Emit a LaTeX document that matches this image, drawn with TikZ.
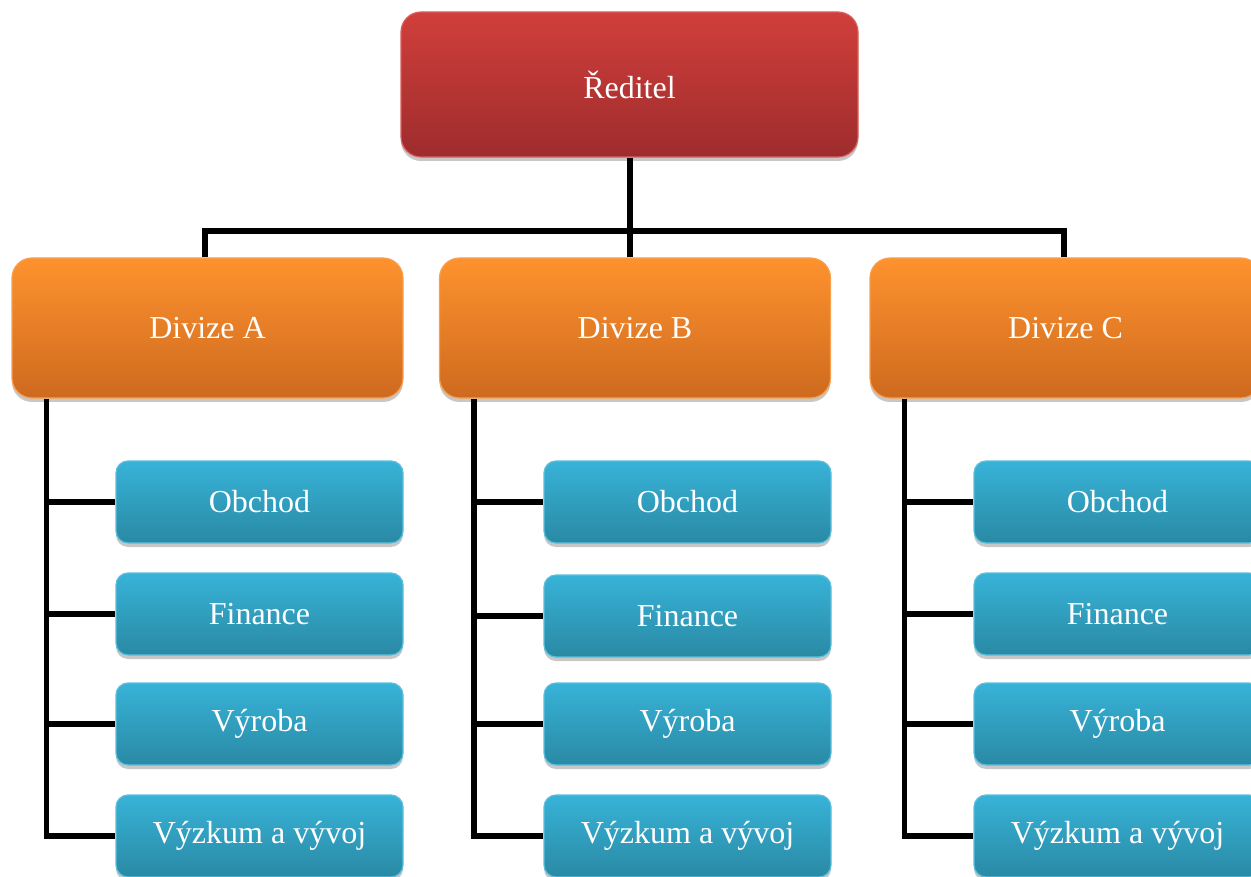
\documentclass[tikz,border=0pt]{standalone}
\usepackage{fontspec}
\setmainfont{Liberation Serif}
\usetikzlibrary{shadows,backgrounds,calc}

\definecolor{redtop}{HTML}{D03F3B}
\definecolor{redbot}{HTML}{9E2C2D}
\definecolor{rededge}{HTML}{D9605C}
\definecolor{ortop}{HTML}{FE922E}
\definecolor{orbot}{HTML}{CE6A1F}
\definecolor{oredge}{HTML}{F8A04E}
\definecolor{bltop}{HTML}{37B3D8}
\definecolor{blbot}{HTML}{2A89A4}
\definecolor{bledge}{HTML}{5CBFDD}

\tikzset{
  box/.style={rectangle, inner sep=0pt, text=white,
    font=\fontsize{32}{36}\selectfont, line width=1.2pt,
    drop shadow={shadow xshift=0pt, shadow yshift=-4pt, opacity=0.22, fill=black}},
  headbox/.style={box, draw=rededge, top color=redtop, bottom color=redbot,
    minimum width=457pt, minimum height=145pt, rounded corners=20pt},
  divbox/.style={box, draw=oredge, top color=ortop, bottom color=orbot,
    minimum width=391pt, minimum height=140pt, rounded corners=20pt},
  unitbox/.style={box, draw=bledge, top color=bltop, bottom color=blbot,
    minimum width=287pt, minimum height=82pt, rounded corners=12pt},
  link/.style={draw=black, line width=5.5pt}
}

\begin{document}
\begin{tikzpicture}[x=1pt, y=-1pt]
\useasboundingbox (0,0) rectangle (1251,877);
\clip (0,0) rectangle (1251,877);

% director
\node[headbox] (head) at (629.5,84.5) {Ředitel};

% divisions
\node[divbox] (divA) at (207.5,328) {Divize A};
\node[divbox] (divB) at (635,328) {Divize B};
\node[divbox] (divC) at (1065.5,328) {Divize C};

% departments of each division
\foreach \d/\x/\ya/\yb/\yc/\yd in {A/259.5/502/614/724/836, B/687.5/502/616/724/836, C/1117.5/502/614/724/836} {
  \node[unitbox] (\d1) at (\x,\ya) {Obchod};
  \node[unitbox] (\d2) at (\x,\yb) {Finance};
  \node[unitbox] (\d3) at (\x,\yc) {Výroba};
  \node[unitbox] (\d4) at (\x,\yd) {Výzkum a vývoj};
}

\begin{scope}[on background layer]
  % director to divisions
  \coordinate (bus) at (630,231);
  \draw[link] (head.south -| bus) -- (divB.north -| bus);
  \draw[link] (divA.north -| 205,0) -- (bus -| 205,0) -- (bus -| 1064,0) -- (divC.north -| 1064,0);

  % division spines to departments
  \foreach \d in {A,B,C} {
    \coordinate (spine\d) at ($(div\d.south west)+(35,0)$);
    \draw[link] (spine\d) |- (\d4.west);
    \foreach \k in {1,2,3}
      \draw[link] (spine\d |- \d\k.west) -- (\d\k.west);
  }
\end{scope}
\end{tikzpicture}
\end{document}
